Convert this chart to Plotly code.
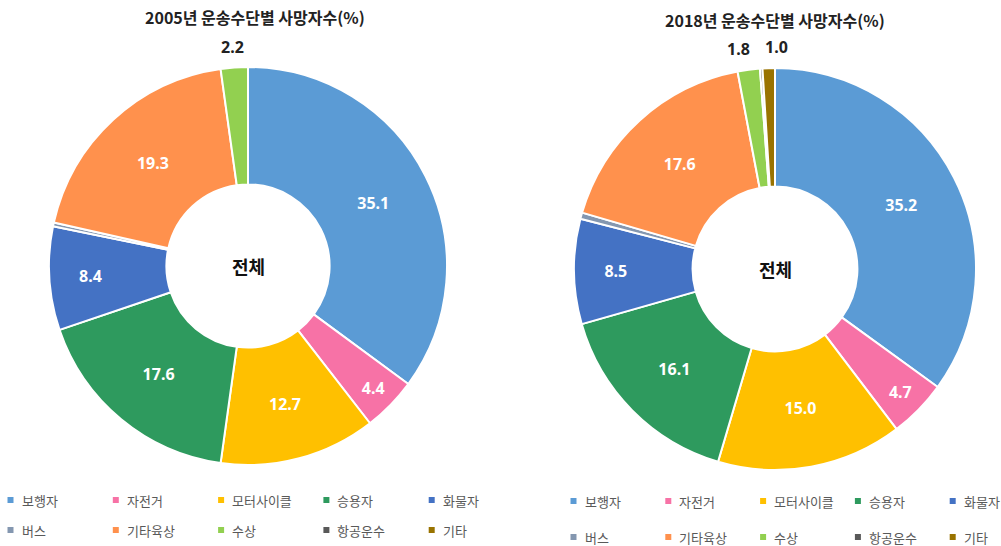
import math
import plotly.graph_objects as go

# Deaths by transport mode (%), 2005 vs 2018
modes = ["보행자", "자전거", "모터사이클", "승용자", "화물자",
         "버스", "기타육상", "수상", "항공운수", "기타"]
share_2005 = [35.1, 4.4, 12.7, 17.6, 8.4, 0.3, 19.3, 2.2, 0.0, 0.0]
share_2018 = [35.2, 4.7, 15.0, 16.1, 8.5, 0.5, 17.6, 1.8, 0.2, 1.0]
titles = ["2005년 운송수단별 사망자수(%)", "2018년 운송수단별 사망자수(%)"]
center_label = "전체"

colors = ["#5B9BD5", "#F772A6", "#FFC000", "#2E9A5E", "#4472C4",
          "#8497B0", "#FF914D", "#92D050", "#595959", "#997300"]

W, H = 1001, 546
KFONT = "Noto Sans CJK KR"
NFONT = "Noto Sans"


def px(x):
    return x / W


def py(y):
    return 1 - y / H


fig = go.Figure()

# (center x, center y, radius) of each donut in pixels
geom = [(248, 266, 199), (775, 269, 201)]

for values, (cx, cy, r) in zip([share_2005, share_2018], geom):
    # big slices carry their value inside the ring
    inside_txt = [f"{v:.1f}" if v >= 3 else "" for v in values]
    fig.add_trace(go.Pie(
        labels=modes,
        values=values,
        text=inside_txt,
        textinfo="text",
        textposition="inside",
        insidetextorientation="horizontal",
        insidetextfont=dict(color="white", size=16, family=NFONT, weight="bold"),
        hole=0.41,
        sort=False,
        direction="clockwise",
        rotation=0,
        marker=dict(colors=colors, line=dict(color="white", width=2)),
        domain=dict(x=[px(cx - r), px(cx + r)], y=[py(cy + r), py(cy - r)]),
        showlegend=False,
    ))
    fig.add_annotation(x=px(cx), y=py(cy), xref="paper", yref="paper",
                       xanchor="center", yanchor="middle",
                       text=f"<b>{center_label}</b>", showarrow=False,
                       font=dict(size=18, color="#111111", family=KFONT))

    # small slices (1-3 %) get their value just outside the rim
    total = sum(values)
    small = []
    cum = 0.0
    for v in values:
        if 1 <= v < 3:
            ang = math.radians((cum + v / 2) / total * 360)
            rr = r + 21
            small.append([cx + rr * math.sin(ang), cy - rr * math.cos(ang), v])
        cum += v
    # spread neighbouring labels so they do not collide
    min_gap = 38
    small.sort(key=lambda t: t[0])
    for a, b in zip(small, small[1:]):
        gap = b[0] - a[0]
        if gap < min_gap:
            d = (min_gap - gap) / 2
            a[0] -= d
            b[0] += d
    for lx, ly, v in small:
        fig.add_annotation(x=px(lx), y=py(ly), xref="paper", yref="paper",
                           xanchor="center", yanchor="middle",
                           text=f"{v:.1f}", showarrow=False,
                           font=dict(size=16, color="#222222", family=NFONT,
                                     weight="bold"))

# chart titles
for title, (tx, ty) in zip(titles, [(255, 17), (775, 20)]):
    fig.add_annotation(x=px(tx), y=py(ty), xref="paper", yref="paper",
                       xanchor="center", yanchor="middle",
                       text=f"<b>{title}</b>", showarrow=False,
                       font=dict(size=16, color="#222222", family=KFONT))

# legends: two rows of five entries under each donut
legend_layout = [
    dict(x0=10.5, step=105.3, rows=(500, 530)),
    dict(x0=573.5, step=94.8, rows=(501, 537)),
]
shapes = []
for lay in legend_layout:
    for i, (name, col) in enumerate(zip(modes, colors)):
        row, colidx = divmod(i, 5)
        mx = lay["x0"] + colidx * lay["step"]
        my = lay["rows"][row]
        s = 3
        shapes.append(dict(type="rect", xref="paper", yref="paper",
                           x0=px(mx - s), x1=px(mx + s),
                           y0=py(my + s), y1=py(my - s),
                           fillcolor=col, line=dict(width=0)))
        fig.add_annotation(x=px(mx + 9), y=py(my), xref="paper", yref="paper",
                           text=name, showarrow=False,
                           xanchor="left", yanchor="middle",
                           font=dict(size=13, color="#595959", family=KFONT))

fig.update_layout(
    width=W, height=H,
    margin=dict(l=0, r=0, t=0, b=0),
    paper_bgcolor="white",
    plot_bgcolor="white",
    shapes=shapes,
    showlegend=False,
)

fig.write_html("out.html")
